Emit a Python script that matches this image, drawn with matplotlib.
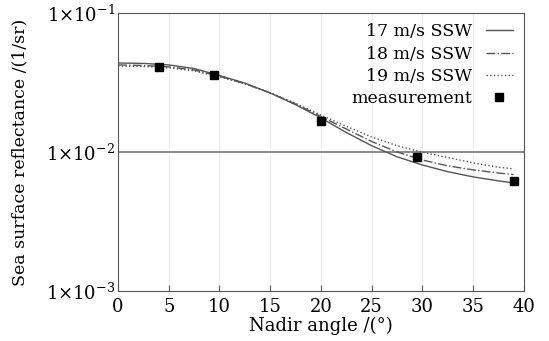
import numpy as np
import matplotlib
matplotlib.use('Agg')
import matplotlib.pyplot as plt
from matplotlib.ticker import FixedLocator, FixedFormatter

plt.rcParams['font.family'] = 'DejaVu Serif'
plt.rcParams['mathtext.fontset'] = 'dejavuserif'

# Datos
angulo = [0, 2.5, 5, 7.5, 10, 12.5, 15, 17.5, 20, 22.5, 25, 27.5, 30, 32.5, 35, 37.5, 39]
ssw17 = [0.04365, 0.04335, 0.04227, 0.03981, 0.03548, 0.03126, 0.02655, 0.02188, 0.01758,
         0.01380, 0.01109, 0.00923, 0.00805, 0.00721, 0.00661, 0.00619, 0.00598]
ssw18 = [0.04227, 0.04188, 0.04093, 0.03890, 0.03508, 0.03105, 0.02661, 0.02213, 0.01799,
         0.01462, 0.01189, 0.01000, 0.00875, 0.00794, 0.00743, 0.00705, 0.00687]
ssw19 = [0.04150, 0.04121, 0.04027, 0.03828, 0.03467, 0.03090, 0.02661, 0.02239, 0.01841,
         0.01531, 0.01282, 0.01109, 0.00995, 0.00912, 0.00834, 0.00776, 0.00755]
med_x = [4, 9.5, 20, 29.5, 39]
med_y = [0.0409, 0.0358, 0.0167, 0.0092, 0.0062]

x_ticks = [0, 5, 10, 15, 20, 25, 30, 35, 40]
y_ticks = [1e-3, 1e-2, 1e-1]
y_labels = [r'$1{\times}10^{-3}$', r'$1{\times}10^{-2}$', r'$1{\times}10^{-1}$']

fig = plt.figure(figsize=(5.49, 3.41), dpi=100)
ax = fig.add_axes([0.215, 0.147, 0.739, 0.815])

gris = '#555555'
ax.plot(angulo, ssw17, '-', color=gris, lw=1.0, label='17 m/s SSW')
ax.plot(angulo, ssw18, '-.', color=gris, lw=1.0, label='18 m/s SSW')
ax.plot(angulo, ssw19, ':', color=gris, lw=1.0, label='19 m/s SSW')
ax.plot(med_x, med_y, 's', color='black', ms=6, linestyle='none', label='measurement')

ax.set_yscale('log')
ax.set_xlim(0, 40)
ax.set_ylim(1e-3, 1e-1)
ax.xaxis.set_major_locator(FixedLocator(x_ticks))
ax.yaxis.set_major_locator(FixedLocator(y_ticks))
ax.yaxis.set_major_formatter(FixedFormatter(y_labels))
ax.yaxis.set_minor_locator(FixedLocator([]))
ax.tick_params(axis='both', direction='in', labelsize=13, color=gris, length=4)
ax.tick_params(axis='x', pad=5)
ax.tick_params(axis='y', length=0, pad=2)

for x in x_ticks[1:-1]:
    ax.axvline(x, color='#eeeeee', lw=0.8, zorder=0)
ax.axhline(1e-2, color='#777777', lw=1.2, zorder=1)

for s in ax.spines.values():
    s.set_color(gris)

ax.set_xlabel('Nadir angle /(°)', fontsize=13, labelpad=1)
ax.set_ylabel('Sea surface reflectance /(1/sr)', fontsize=12.5, labelpad=13)

ax.legend(loc='upper right', frameon=False, markerfirst=False, fontsize=12.5,
          handlelength=1.6, labelspacing=0.3, borderaxespad=0.2, handletextpad=0.8)

fig.savefig('out.png', dpi=100)
